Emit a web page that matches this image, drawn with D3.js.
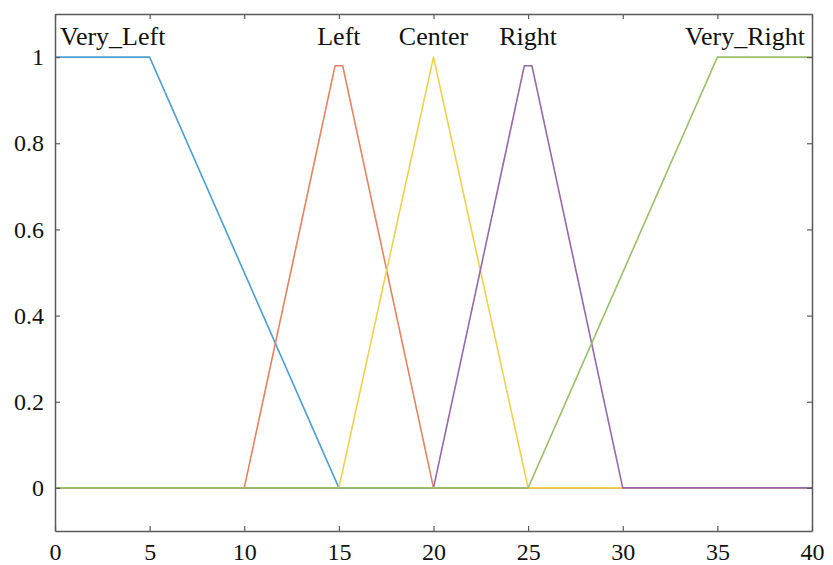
<!DOCTYPE html>
<html><head><meta charset="utf-8">
<script src="https://cdn.jsdelivr.net/npm/d3@7"></script>
<style>body{margin:0;background:#fff;}svg{display:block;} text{font-family:"Liberation Serif","Times New Roman",Times,serif;}</style>
</head><body>
<svg id="c" width="833" height="565"></svg>
<script>
const names = ["Very_Left","Left","Center","Right","Very_Right"];
const colors = ["#4d9ed3","#e6825f","#efd14c","#9668ab","#9cbf6b"];
const veryLeft = [[0,1],[5,1],[15,0],[40,0]];
const left = [[0,0],[10,0],[14.8,0.98],[15.2,0.98],[20,0],[40,0]];
const center = [[0,0],[15,0],[20,1],[25,0],[40,0]];
const right = [[0,0],[20,0],[24.8,0.98],[25.2,0.98],[30,0],[40,0]];
const veryRight = [[0,0],[25,0],[35,1],[40,1]];
const labelX = [null,15,20,25,null];
const xTicks = [0,5,10,15,20,25,30,35,40];
const yTicks = [0,0.2,0.4,0.6,0.8,1];

const series = [veryLeft,left,center,right,veryRight];
const svg = d3.select("#c");
const L=55,R=812,T=14,B=531;
const x = d3.scaleLinear().domain([0,40]).range([L,R]);
const y = d3.scaleLinear().domain([-0.1,1.1]).range([B,T]);

const line = d3.line().x(d=>x(d[0])).y(d=>y(d[1]));
series.forEach((s,i)=>{
  svg.append("path").attr("d",line(s)).attr("fill","none")
    .attr("stroke",colors[i]).attr("stroke-width",1.6).attr("stroke-linejoin","round");
});

// axes
const gx = svg.append("g").attr("transform",`translate(0,${B})`)
  .call(d3.axisBottom(x).tickValues(xTicks).tickSizeInner(-5).tickSizeOuter(0).tickPadding(12).tickFormat(d3.format("d")));
const gxt = svg.append("g").attr("transform",`translate(0,${T})`)
  .call(d3.axisTop(x).tickValues(xTicks).tickSizeInner(-5).tickSizeOuter(0).tickFormat(""));
const gy = svg.append("g").attr("transform",`translate(${L},0)`)
  .call(d3.axisLeft(y).tickValues(yTicks).tickSizeInner(-5).tickSizeOuter(0).tickPadding(11).tickFormat(d=>d===0?"0":d===1?"1":d3.format(".1f")(d)));
const gyr = svg.append("g").attr("transform",`translate(${R},0)`)
  .call(d3.axisRight(y).tickValues(yTicks).tickSizeInner(-5).tickSizeOuter(0).tickFormat(""));
[gx,gxt,gy,gyr].forEach(g=>{
  g.attr("font-family",null).attr("font-size",null);
  g.selectAll("path").attr("stroke","#5a5a5a").attr("stroke-width",1.5);
  g.selectAll("line").attr("stroke","#5a5a5a").attr("stroke-width",1.2);
  g.selectAll("text").style("font-size","24px").attr("fill","#111");
});
gx.selectAll("text").attr("dy","0.71em");

// labels
names.forEach((n,i)=>{
  let t = svg.append("text").text(n).style("font-size","26px")
    .attr("y",45).attr("fill","#111");
  if(i===0) t.attr("x",60).attr("text-anchor","start");
  else if(i===4) t.attr("x",805).attr("text-anchor","end");
  else t.attr("x",x(labelX[i])).attr("text-anchor","middle");
});
</script>
</body></html>
